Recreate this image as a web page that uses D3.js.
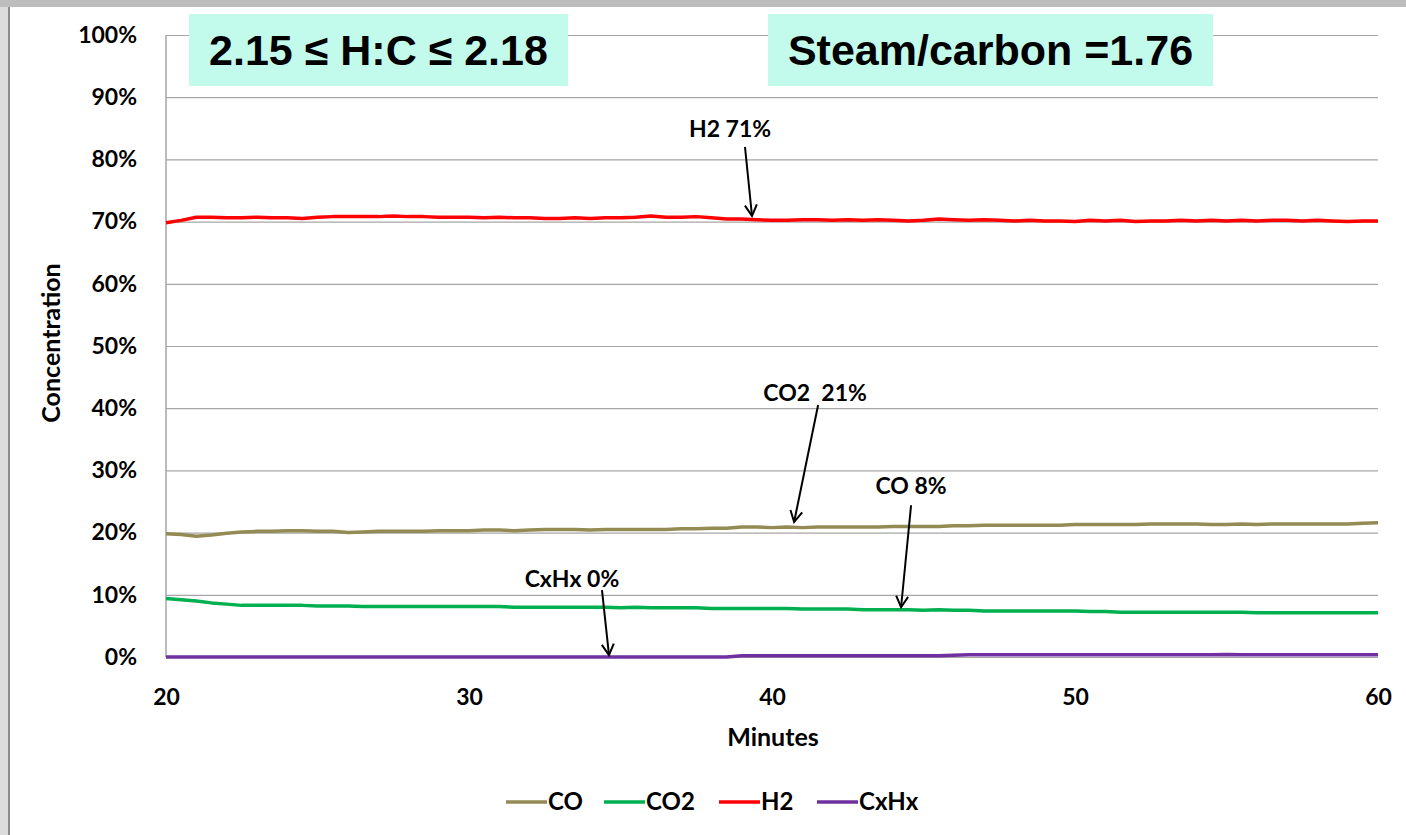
<!DOCTYPE html>
<html>
<head>
<meta charset="utf-8">
<script src="https://cdn.jsdelivr.net/npm/d3@7"></script>
<style>
  html, body { margin: 0; padding: 0; background: #fff; }
  svg { display: block; }
</style>
</head>
<body>
<svg id="chart" width="1406" height="835"></svg>
<script>
// ---------- DATA ----------
const minutes = d3.range(20, 60.001, 0.5); // sample times, minutes

const seriesNames = ["CO", "CO2", "H2", "CxHx"];

const coValues = [
  19.8,19.7,19.4,19.6,19.9,20.1,20.2,20.2,20.3,20.3,
  20.2,20.2,20.0,20.1,20.2,20.2,20.2,20.2,20.3,20.3,
  20.3,20.4,20.4,20.3,20.4,20.5,20.5,20.5,20.4,20.5,
  20.5,20.5,20.5,20.5,20.6,20.6,20.7,20.7,20.9,20.9,
  20.8,20.9,20.8,20.9,20.9,20.9,20.9,20.9,21.0,21.0,
  21.0,21.0,21.1,21.1,21.2,21.2,21.2,21.2,21.2,21.2,
  21.3,21.3,21.3,21.3,21.3,21.4,21.4,21.4,21.4,21.3,
  21.3,21.4,21.3,21.4,21.4,21.4,21.4,21.4,21.4,21.5,
  21.6
];
const co2Values = [
  9.4,9.2,9.0,8.7,8.5,8.3,8.3,8.3,8.3,8.3,
  8.2,8.2,8.2,8.1,8.1,8.1,8.1,8.1,8.1,8.1,
  8.1,8.1,8.1,8.0,8.0,8.0,8.0,8.0,8.0,8.0,
  7.9,8.0,7.9,7.9,7.9,7.9,7.8,7.8,7.8,7.8,
  7.8,7.8,7.7,7.7,7.7,7.7,7.6,7.6,7.6,7.6,
  7.5,7.6,7.5,7.5,7.4,7.4,7.4,7.4,7.4,7.4,
  7.4,7.3,7.3,7.2,7.2,7.2,7.2,7.2,7.2,7.2,
  7.2,7.2,7.1,7.1,7.1,7.1,7.1,7.1,7.1,7.1,
  7.1
];
const h2Values = [
  69.8,70.2,70.7,70.7,70.6,70.6,70.7,70.6,70.6,70.5,
  70.7,70.8,70.8,70.8,70.8,70.9,70.8,70.8,70.7,70.7,
  70.7,70.6,70.7,70.6,70.6,70.5,70.5,70.6,70.5,70.6,
  70.6,70.7,70.9,70.7,70.7,70.8,70.6,70.4,70.4,70.3,
  70.2,70.2,70.3,70.3,70.2,70.3,70.2,70.3,70.2,70.1,
  70.2,70.4,70.3,70.2,70.3,70.2,70.1,70.2,70.1,70.1,
  70.0,70.2,70.1,70.2,70.0,70.1,70.1,70.2,70.1,70.2,
  70.1,70.2,70.1,70.2,70.2,70.1,70.2,70.1,70.0,70.1,
  70.1
];
const cxhxValues = [
  0.0,0.0,0.0,0.0,0.0,0.0,0.0,0.0,0.0,0.0,
  0.0,0.0,0.0,0.0,0.0,0.0,0.0,0.0,0.0,0.0,
  0.0,0.0,0.0,0.0,0.0,0.0,0.0,0.0,0.0,0.0,
  0.0,0.0,0.0,0.0,0.0,0.0,0.0,0.0,0.2,0.2,
  0.2,0.2,0.2,0.2,0.2,0.2,0.2,0.2,0.2,0.2,
  0.2,0.2,0.3,0.35,0.35,0.35,0.35,0.35,0.35,0.35,
  0.35,0.35,0.35,0.35,0.35,0.35,0.35,0.35,0.35,0.35,
  0.4,0.35,0.35,0.35,0.35,0.35,0.35,0.35,0.35,0.35,
  0.35
];

const xTicks = [20, 30, 40, 50, 60];
const yTicks = [0, 10, 20, 30, 40, 50, 60, 70, 80, 90, 100];

const headline1 = "2.15 \u2264 H:C \u2264 2.18";
const headline2 = "Steam/carbon =1.76";

// annotation texts and the data point (minute, %) each arrow points to
const annoText   = ["H2 71%", "CO2  21%", "CO 8%", "CxHx 0%"];
const annoMinute = [39.34, 40.73, 44.26, 34.62];
const annoValue  = [70.9, 21.7, 8.0, 0.3];

// ---------- STYLE / LAYOUT ----------
const colors = { "CO": "#948A54", "CO2": "#00B050", "H2": "#FF0000", "CxHx": "#7030A0" };
const valuesBy = { "CO": coValues, "CO2": co2Values, "H2": h2Values, "CxHx": cxhxValues };
const W = 1406, H = 835;
const plot = { left: 166, right: 1378, top: 35, bottom: 657 };
const uiFont = "Lato, 'Open Sans', 'DejaVu Sans', sans-serif";

const svg = d3.select("#chart");

// frame
svg.append("rect").attr("x", 0).attr("y", 0).attr("width", W).attr("height", H).attr("fill", "#ffffff");
svg.append("rect").attr("x", 0).attr("y", 0).attr("width", 9).attr("height", H).attr("fill", "#dcdcdc");
svg.append("rect").attr("x", 8).attr("y", 0).attr("width", 2).attr("height", H).attr("fill", "#8c8c8c");
svg.append("rect").attr("x", 0).attr("y", 0).attr("width", W).attr("height", 7).attr("fill", "#bdbdbd");

const x = d3.scaleLinear().domain([20, 60]).range([plot.left, plot.right]);
const y = d3.scaleLinear().domain([0, 100]).range([plot.bottom, plot.top]);

// gridlines
svg.append("g")
  .attr("transform", `translate(${plot.left},0)`)
  .call(d3.axisLeft(y).tickValues(yTicks).tickSize(-(plot.right - plot.left)).tickFormat(""))
  .call(g => g.select(".domain").remove())
  .call(g => g.selectAll("line").attr("stroke", "#a6a6a6").attr("stroke-width", 1.2));

// y axis line
svg.append("line")
  .attr("x1", plot.left).attr("x2", plot.left)
  .attr("y1", plot.top).attr("y2", plot.bottom)
  .attr("stroke", "#a6a6a6").attr("stroke-width", 1.5);

// y tick labels
svg.append("g")
  .attr("transform", `translate(${plot.left - 29},0)`)
  .call(d3.axisLeft(y).tickValues(yTicks).tickSize(0).tickFormat(d => d + "%"))
  .call(g => g.select(".domain").remove())
  .call(g => g.selectAll("text")
    .attr("font-family", uiFont).attr("font-weight", "bold")
    .attr("font-size", 23).attr("fill", "#000").attr("dx", 0).attr("x", 0));

// x tick labels
svg.append("g")
  .attr("transform", `translate(0,${plot.bottom + 29})`)
  .call(d3.axisBottom(x).tickValues(xTicks).tickSize(0).tickFormat(d3.format("d")))
  .call(g => g.select(".domain").remove())
  .call(g => g.selectAll("text")
    .attr("font-family", uiFont).attr("font-weight", "bold")
    .attr("font-size", 23).attr("fill", "#000"));

// axis titles
svg.append("text")
  .attr("x", 773).attr("y", 746)
  .attr("text-anchor", "middle")
  .attr("font-family", uiFont).attr("font-weight", "bold").attr("font-size", 25)
  .text("Minutes");
svg.append("text")
  .attr("transform", "translate(60,343) rotate(-90)")
  .attr("text-anchor", "middle")
  .attr("font-family", uiFont).attr("font-weight", "bold").attr("font-size", 25)
  .text("Concentration");

// lines
const line = d3.line().x((d, i) => x(minutes[i])).y(d => y(d));
["CxHx", "CO2", "CO", "H2"].forEach(name => {
  svg.append("path")
    .datum(valuesBy[name])
    .attr("d", line)
    .attr("fill", "none")
    .attr("stroke", colors[name])
    .attr("stroke-width", 3.5)
    .attr("stroke-linejoin", "round");
});

// headline boxes
function headline(text, x0, x1) {
  svg.append("rect").attr("x", x0).attr("y", 14).attr("width", x1 - x0).attr("height", 72)
    .attr("fill", "#C2FBEC");
  svg.append("text")
    .attr("x", (x0 + x1) / 2).attr("y", 65)
    .attr("text-anchor", "middle")
    .attr("font-family", "'Liberation Sans', Arial, sans-serif")
    .attr("font-weight", "bold").attr("font-size", 43)
    .attr("fill", "#000")
    .text(text);
}
headline(headline1, 189, 568);
headline(headline2, 768, 1213);

// annotations
svg.append("defs").append("marker")
  .attr("id", "arrow").attr("viewBox", "-12 -7 14 14")
  .attr("refX", 0).attr("refY", 0)
  .attr("markerWidth", 14).attr("markerHeight", 14)
  .attr("markerUnits", "userSpaceOnUse")
  .attr("orient", "auto")
  .append("path").attr("d", "M-11,-6 L0,0 L-11,6")
  .attr("fill", "none").attr("stroke", "#000").attr("stroke-width", 2);

const annoLabelDx = [-22, 21, 10, -37];
const annoLabelDy = [-79, -121, -113, -68];
const annoTailDx  = [-7, 24, 10, -7];
const annoTailDy  = [-69, -117, -102, -65];

annoText.forEach((t, i) => {
  const tx = x(annoMinute[i]), ty = y(annoValue[i]);
  svg.append("line")
    .attr("x1", tx + annoTailDx[i]).attr("y1", ty + annoTailDy[i])
    .attr("x2", tx).attr("y2", ty)
    .attr("stroke", "#000").attr("stroke-width", 2)
    .attr("marker-end", "url(#arrow)");
  svg.append("text")
    .attr("x", tx + annoLabelDx[i]).attr("y", ty + annoLabelDy[i])
    .attr("text-anchor", "middle")
    .attr("font-family", uiFont).attr("font-weight", "bold").attr("font-size", 23)
    .attr("xml:space", "preserve")
    .style("white-space", "pre")
    .text(t);
});

// legend
const legendX = [506, 604, 719, 817];
const legendY = 802;
seriesNames.forEach((name, i) => {
  svg.append("line")
    .attr("x1", legendX[i]).attr("x2", legendX[i] + 41)
    .attr("y1", legendY).attr("y2", legendY)
    .attr("stroke", colors[name]).attr("stroke-width", 3.5);
  svg.append("text")
    .attr("x", legendX[i] + 42).attr("y", legendY + 8)
    .attr("font-family", uiFont).attr("font-weight", "bold").attr("font-size", 24)
    .text(name);
});
</script>
</body>
</html>
